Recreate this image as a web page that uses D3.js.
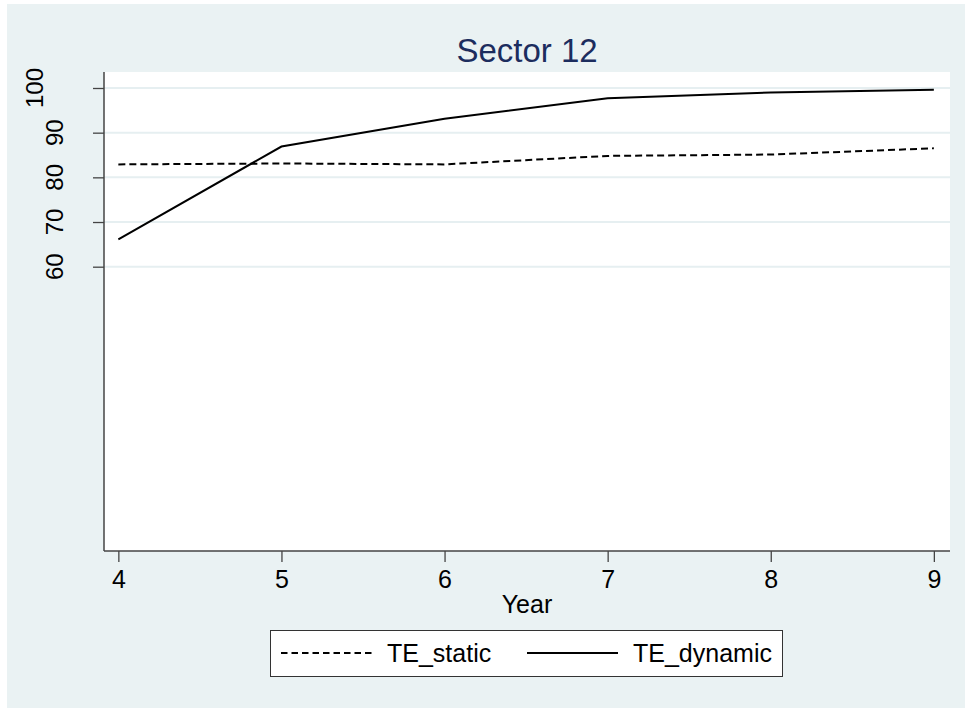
<!DOCTYPE html>
<html>
<head>
<meta charset="utf-8">
<script src="https://cdn.jsdelivr.net/npm/d3@7"></script>
<style>
  body { margin: 0; background: #fff; }
  text { font-family: "Liberation Sans", Arial, sans-serif; }
</style>
</head>
<body>
<div id="wrapper"></div>
<script>
// data
const years = [4, 5, 6, 7, 8, 9]
const teStatic = [82.9, 83.1, 82.9, 84.8, 85.1, 86.5]
const teDynamic = [66.1, 86.9, 93.1, 97.7, 99.0, 99.6]
const yTicks = [60, 70, 80, 90, 100]
const xTicks = [4, 5, 6, 7, 8, 9]
const seriesNames = ['TE_static', 'TE_dynamic']

const dms = {
    width: 965,
    height: 708,
    plot: { left: 104, right: 950, top: 72, bottom: 551 }
}

const svg = d3.select('#wrapper')
    .append('svg')
    .attr('width', dms.width)
    .attr('height', dms.height)

// outer graph region
svg.append('rect')
    .attr('x', 7).attr('y', 4)
    .attr('width', dms.width - 7)
    .attr('height', dms.height - 4)
    .attr('fill', '#eaf2f3')

// plot region
svg.append('rect')
    .attr('x', dms.plot.left)
    .attr('y', dms.plot.top)
    .attr('width', dms.plot.right - dms.plot.left)
    .attr('height', dms.plot.bottom - dms.plot.top)
    .attr('fill', '#fff')

const xScale = d3.scaleLinear()
    .domain([3.912, 9.099])
    .range([dms.plot.left, dms.plot.right])

const yScale = d3.scaleLinear()
    .domain([-3.64, 103.58])
    .range([dms.plot.bottom, dms.plot.top])

// grid lines
svg.append('g')
    .selectAll('line')
    .data(yTicks)
    .join('line')
    .attr('x1', dms.plot.left)
    .attr('x2', dms.plot.right)
    .attr('y1', d => yScale(d))
    .attr('y2', d => yScale(d))
    .attr('stroke', '#e6eff1')
    .attr('stroke-width', 2)

// y axis
const yAxis = svg.append('g')
    .attr('transform', `translate(${dms.plot.left},0)`)
    .call(d3.axisLeft(yScale).tickValues(yTicks).tickSize(11).tickFormat(''))
yAxis.select('.domain')
    .attr('d', `M0,${dms.plot.top}V${dms.plot.bottom}`)
    .attr('stroke', '#444').attr('stroke-width', 1.5)
yAxis.selectAll('.tick line').attr('stroke', '#444').attr('stroke-width', 1.3)

svg.append('g')
    .selectAll('text')
    .data(yTicks)
    .join('text')
    .attr('transform', d => `translate(${String(d).length > 2 ? 43 : 63},${yScale(d)}) rotate(-90)`)
    .attr('text-anchor', 'middle')
    .style('font-size', '24px')
    .attr('fill', '#000')
    .text(d => d)

// x axis
const xAxis = svg.append('g')
    .attr('transform', `translate(0,${dms.plot.bottom})`)
    .call(d3.axisBottom(xScale).tickValues(xTicks).tickSize(11).tickFormat(d3.format('d')))
xAxis.select('.domain')
    .attr('d', `M${dms.plot.left},0H${dms.plot.right}`)
    .attr('stroke', '#444').attr('stroke-width', 1.5)
xAxis.selectAll('.tick line').attr('stroke', '#444').attr('stroke-width', 1.3)
xAxis.selectAll('.tick text')
    .attr('fill', '#000')
    .attr('dy', null)
    .attr('y', 37)
    .style('font-size', '25px')
    .style('font-family', '"Liberation Sans", Arial, sans-serif')

svg.append('text')
    .attr('x', (dms.plot.left + dms.plot.right) / 2)
    .attr('y', 613)
    .attr('text-anchor', 'middle')
    .style('font-size', '25px')
    .text('Year')

// title
svg.append('text')
    .attr('x', 527)
    .attr('y', 62)
    .attr('text-anchor', 'middle')
    .style('font-size', '33px')
    .attr('fill', '#1c2d5e')
    .text('Sector 12')

// series lines
const line = d3.line()
    .x((d, i) => xScale(years[i]))
    .y(d => yScale(d))

svg.append('path')
    .datum(teStatic)
    .attr('d', line)
    .attr('fill', 'none')
    .attr('stroke', '#000')
    .attr('stroke-width', 2)
    .attr('stroke-dasharray', '7 4')

svg.append('path')
    .datum(teDynamic)
    .attr('d', line)
    .attr('fill', 'none')
    .attr('stroke', '#000')
    .attr('stroke-width', 2)

// legend
const legend = svg.append('g')
legend.append('rect')
    .attr('x', 270.5).attr('y', 630.5)
    .attr('width', 512).attr('height', 46)
    .attr('fill', '#fff')
    .attr('stroke', '#333')
    .attr('stroke-width', 1)

const legendItems = [
    { name: seriesNames[0], x: 281, dash: '6.5 4' },
    { name: seriesNames[1], x: 527, dash: null }
]
legendItems.forEach(item => {
    legend.append('line')
        .attr('x1', item.x).attr('x2', item.x + 91)
        .attr('y1', 653).attr('y2', 653)
        .attr('stroke', '#000')
        .attr('stroke-width', 2)
        .attr('stroke-dasharray', item.dash)
    legend.append('text')
        .attr('x', item.x + 106)
        .attr('y', 662)
        .style('font-size', '25px')
        .text(item.name)
})
</script>
</body>
</html>
